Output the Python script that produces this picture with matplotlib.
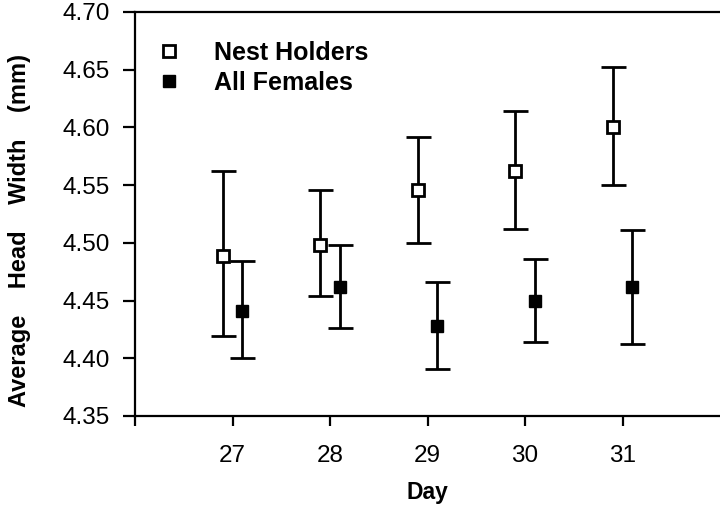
import matplotlib.pyplot as plt
import numpy as np

plt.rcParams['font.family'] = ['Liberation Sans', 'DejaVu Sans']

days = np.array([27, 28, 29, 30, 31])

# Nest holders (open squares)
nest_mean = np.array([4.489, 4.498, 4.546, 4.562, 4.600])
nest_hi = np.array([4.562, 4.546, 4.592, 4.614, 4.652])
nest_lo = np.array([4.419, 4.454, 4.500, 4.512, 4.550])

# All females (filled squares)
fem_mean = np.array([4.441, 4.462, 4.428, 4.450, 4.462])
fem_hi = np.array([4.484, 4.498, 4.466, 4.486, 4.511])
fem_lo = np.array([4.400, 4.426, 4.391, 4.414, 4.412])

yticks = [4.35, 4.40, 4.45, 4.50, 4.55, 4.60, 4.65, 4.70]
offset = 0.1

fig = plt.figure(figsize=(7.2, 5.05), dpi=100)
ax = fig.add_axes([135 / 720, 89 / 505, 585 / 720, 404 / 505])

eb = dict(fmt='none', ecolor='black', elinewidth=2, capsize=9, capthick=2)
ax.errorbar(days - offset, nest_mean,
            yerr=[nest_mean - nest_lo, nest_hi - nest_mean], **eb)
ax.errorbar(days + offset, fem_mean,
            yerr=[fem_mean - fem_lo, fem_hi - fem_mean], **eb)
ax.plot(days - offset, nest_mean, 's', ms=8.5, mfc='white', mec='black',
        mew=2, label='Nest Holders')
ax.plot(days + offset, fem_mean, 's', ms=9, mfc='black', mec='black',
        label='All Females')

ax.set_xlim(26, 32)
ax.set_ylim(4.35, 4.70)
ax.set_xticks([26, 27, 28, 29, 30, 31])
ax.set_xticklabels(['', '27', '28', '29', '30', '31'])
ax.set_yticks(yticks)
ax.set_yticklabels([f'{v:.2f}' for v in yticks])

for s in ['left', 'bottom', 'top']:
    ax.spines[s].set_linewidth(1.6)
ax.spines['right'].set_visible(False)
ax.tick_params(axis='y', direction='out', length=9, width=1.6, pad=9, labelsize=17.5)
ax.tick_params(axis='x', direction='out', length=7, width=1.6, pad=14, labelsize=17.5)

ax.set_xlabel('Day', fontsize=16.5, fontweight='bold', labelpad=10)
ax.set_ylabel('Average    Head    Width    (mm)', fontsize=17, fontweight='bold')
ax.yaxis.set_label_coords(-0.178, 0.46)

ax.legend(loc='upper left', bbox_to_anchor=(0.015, 0.96), frameon=False,
          borderpad=0, handlelength=1.0, handletextpad=1.3, labelspacing=0.25,
          numpoints=1, prop=dict(size=18, weight='bold'))

fig.savefig('out.png', dpi=100)
